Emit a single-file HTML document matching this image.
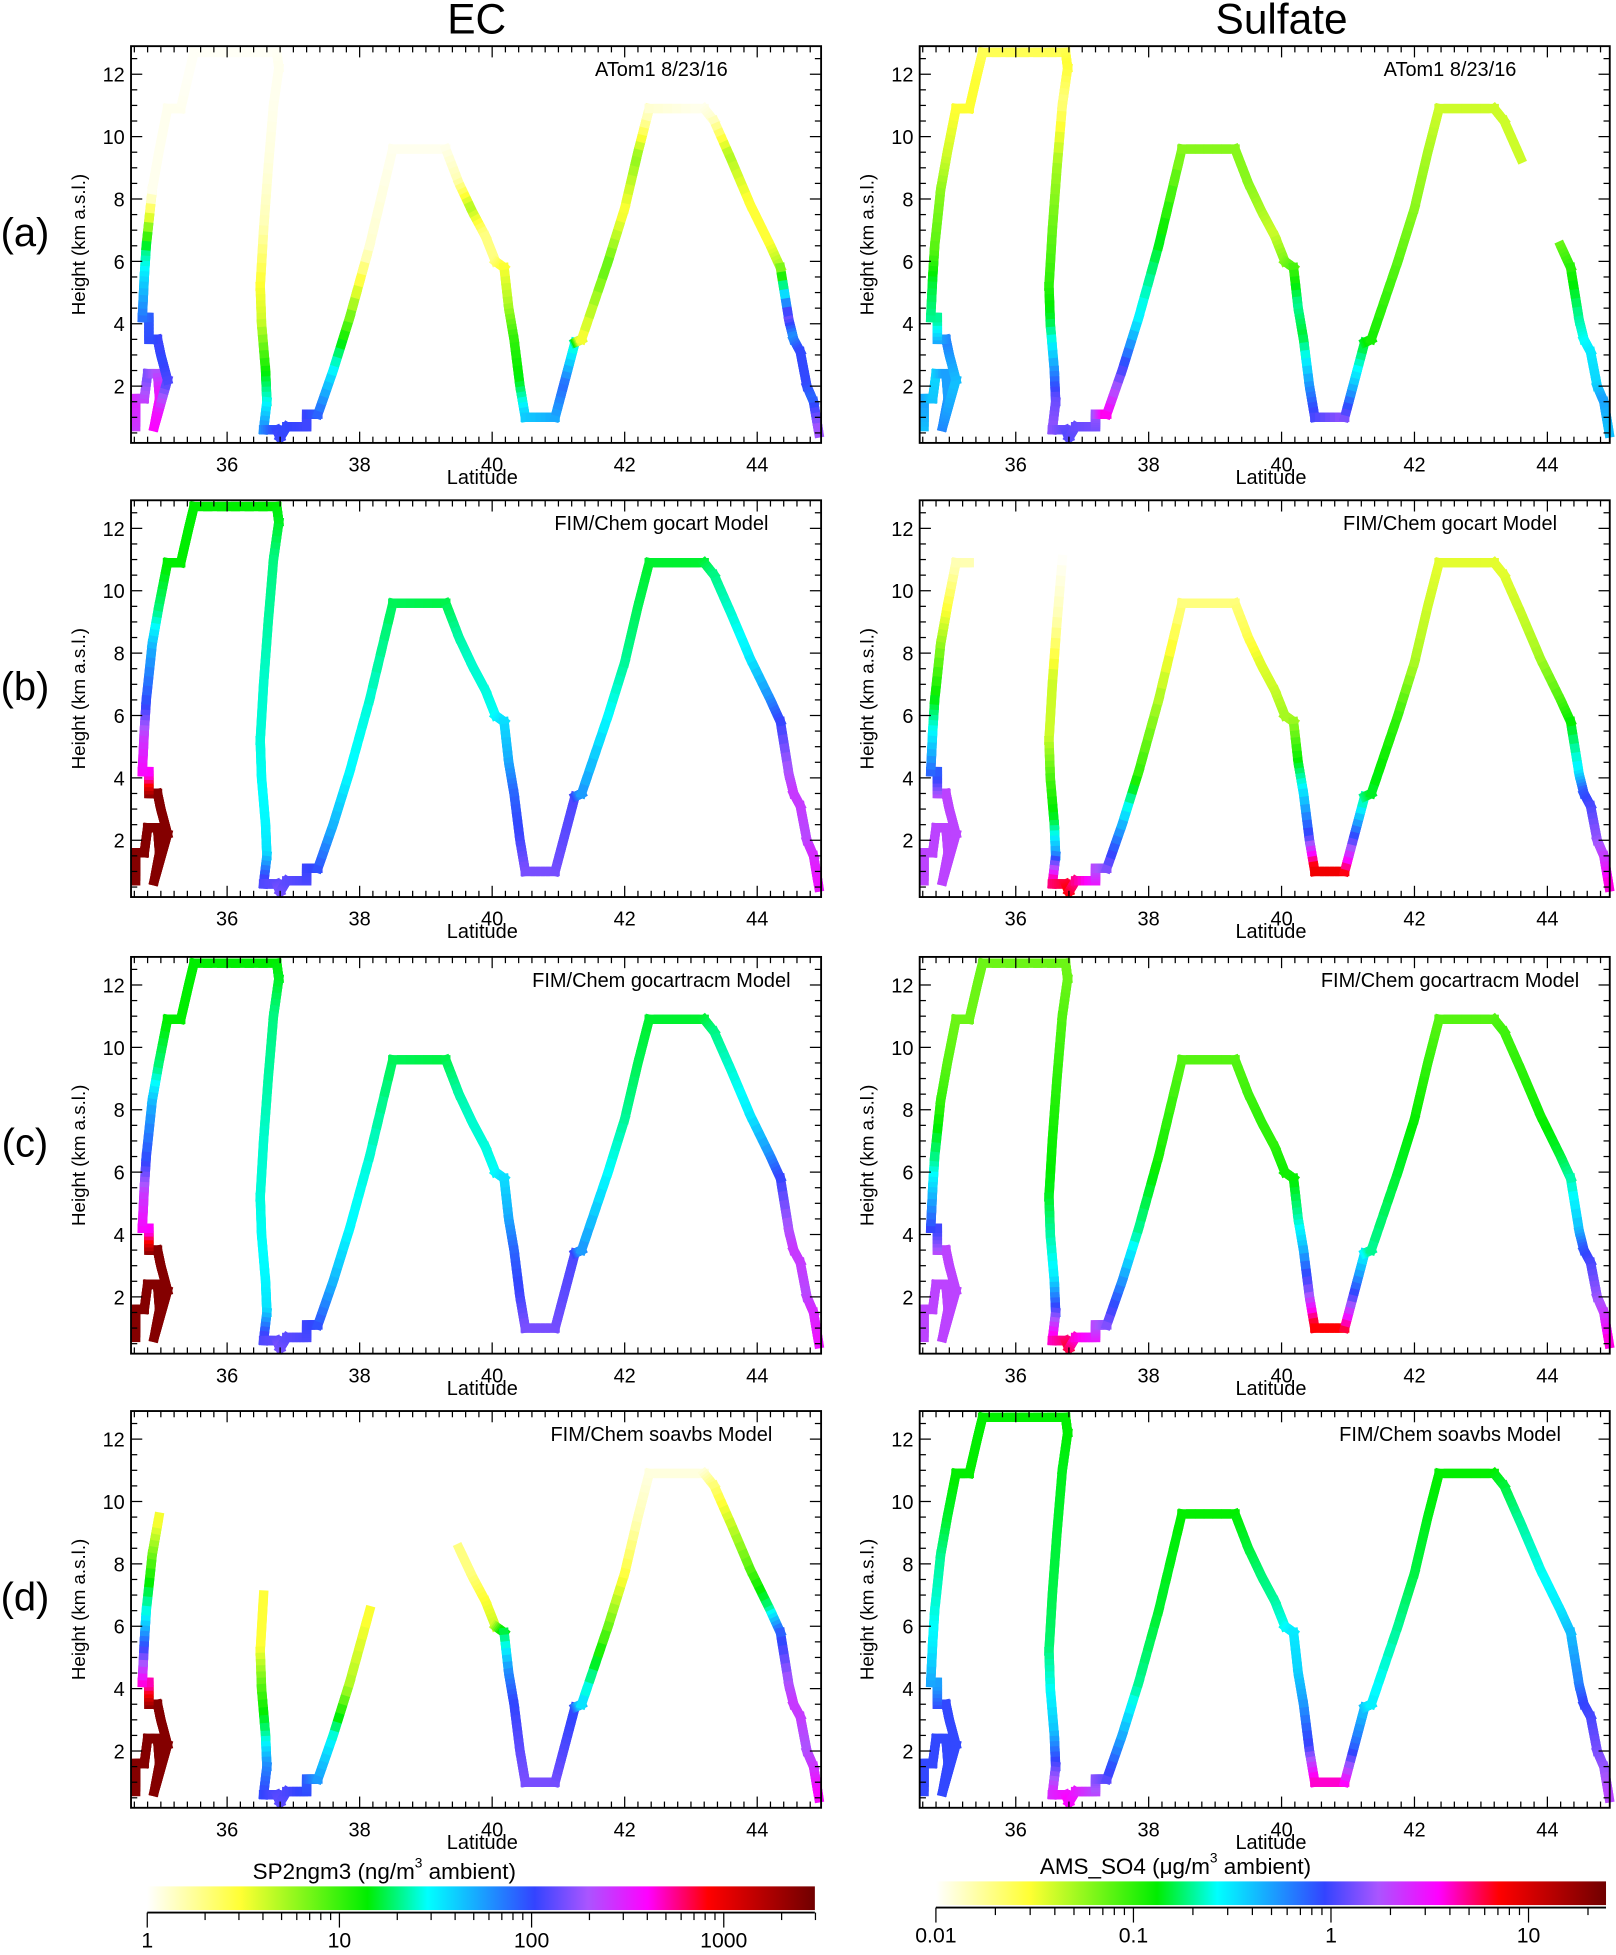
<!DOCTYPE html>
<html><head><meta charset="utf-8">
<style>
html,body{margin:0;padding:0;background:#fff;}
svg{display:block;}
text{font-family:"Liberation Sans",sans-serif;fill:#000;}
</style></head>
<body>
<svg id="fig" xmlns="http://www.w3.org/2000/svg" width="1616" height="1955" viewBox="0 0 1295 1567" preserveAspectRatio="none">
<text x="382" y="27" font-size="34" text-anchor="middle">EC</text>
<text x="1027" y="27" font-size="34" text-anchor="middle">Sulfate</text>
<g id="plots"></g>
<g id="bars"></g>
</svg>
<script>
// ---- flight track (shared by all panels) ----
const trackLat = [34.62,34.62,34.75,34.8,34.95,34.98,34.9,34.98,35.1,35.0,34.95,34.82,34.82,34.72,34.75,34.78,34.87,34.97,35.1,35.3,35.42,35.5,36.75,36.78,36.7,36.62,36.55,36.5,36.52,36.58,36.6,36.55,36.75,36.8,36.9,37.2,37.2,37.37,37.6,37.85,38.15,38.5,39.3,39.5,39.7,39.9,40.05,40.18,40.25,40.33,40.42,40.5,40.95,41.1,41.25,41.35,41.75,42.0,42.2,42.37,43.2,43.35,43.6,43.9,44.2,44.35,44.48,44.55,44.65,44.75,44.85,44.93];
const trackAlt = [0.7,1.6,1.6,2.4,2.4,1.6,0.7,1.3,2.2,3.0,3.5,3.5,4.2,4.2,5.5,6.5,8.3,9.5,10.9,10.9,12.0,12.7,12.7,12.2,11.0,9.0,7.0,5.2,4.0,2.5,1.5,0.6,0.6,0.35,0.7,0.7,1.1,1.1,2.5,4.2,6.5,9.6,9.6,8.5,7.6,6.8,6.0,5.8,4.5,3.5,2.0,1.0,1.0,2.2,3.4,3.5,6.0,7.7,9.5,10.9,10.9,10.5,9.3,7.8,6.5,5.8,4.1,3.5,3.1,2.0,1.5,0.5];
// ---- EC (ng/m3) ----
const ecObs = [250,300,250,150,200,350,400,350,120,100,110,100,90,80,40,20,1.1,1.1,1.1,1.1,1.05,1.05,1.05,1.1,1.1,1.2,1.5,3,4,12,25,60,100,110,100,110,110,90,35,8,1.3,1.1,1.1,1.5,5,2,2,3,5,10,15,40,50,80,25,3,8,3,6,1.3,1.1,1.3,5,3,3,5,150,60,100,100,80,200];
const ecGocart = [2500,2500,2500,2500,2500,2500,2500,2500,2500,2500,2500,2500,400,400,250,100,50,20,14,14,14,14,14,15,20,22,25,26,28,30,35,120,130,150,130,120,110,100,50,30,26,18,17,22,25,26,28,35,50,80,110,150,150,130,120,60,30,22,18,16,16,20,25,32,60,100,200,250,250,220,280,350];
const ecGocartracm = [2500,2500,2500,2500,2500,2500,2500,2500,2500,2500,2500,2500,400,400,250,100,50,20,14,14,14,14,14,15,20,22,25,26,28,30,35,120,130,150,130,120,110,100,50,30,26,18,17,22,25,26,28,35,50,80,110,150,150,130,120,60,30,22,18,16,16,20,25,32,60,100,200,250,250,220,280,350];
const ecSoavbs = [2500,2500,2500,2500,2500,2500,2500,2500,2500,2500,2500,2500,500,500,100,30,8,3,null,null,null,null,null,null,null,null,3,3,8,20,60,100,120,130,120,100,90,60,30,5,3,null,null,2,2,3,4,15,60,100,130,150,150,120,100,40,8,3,1.5,1.2,1.2,2,4,8,20,80,200,250,250,200,250,400];
// ---- Sulfate (ug/m3) ----
const so4Obs = [0.4,0.5,0.4,0.35,0.5,0.5,0.6,0.5,0.4,0.5,0.6,0.5,0.2,0.2,0.15,0.08,0.06,0.04,0.03,0.03,0.03,0.025,0.025,0.03,0.02,0.05,0.07,0.1,0.15,0.5,1.2,1.5,1.2,1.1,1.2,1.3,1.5,4,1.2,0.3,0.15,0.06,0.06,0.06,0.05,0.04,0.06,0.08,0.2,0.15,0.5,1,1.5,0.4,0.15,0.12,0.08,0.06,0.05,0.04,0.04,0.04,0.04,null,0.07,0.1,0.2,0.25,0.3,0.35,0.5,0.4];
const so4Gocart = [2,2,2,2,2,2,2,2,2,2,2,2,0.8,0.8,0.3,0.15,0.06,0.03,0.015,0.015,null,null,null,null,0.01,0.015,0.04,0.04,0.08,0.15,0.5,5,6,7,5,3,2,1.5,0.5,0.1,0.05,0.02,0.02,0.025,0.035,0.04,0.05,0.05,0.12,0.3,1,8,8,1,0.2,0.15,0.1,0.05,0.04,0.035,0.035,0.035,0.04,0.05,0.08,0.12,0.3,0.8,1,1.5,2,4];
const so4Gocartracm = [2,2,2,2,2,2,2,2,2,2,2,2,1,1,0.4,0.2,0.1,0.08,0.07,0.07,0.07,0.07,0.07,0.07,0.08,0.1,0.12,0.14,0.2,0.3,1,4,5,6,4,3,2,1.5,0.6,0.2,0.12,0.08,0.08,0.09,0.1,0.1,0.12,0.12,0.2,0.4,1.5,7,7,1,0.3,0.2,0.15,0.13,0.1,0.08,0.08,0.09,0.1,0.12,0.15,0.2,0.4,0.8,1,1.5,2,4];
const so4Soavbs = [0.9,0.9,0.9,0.9,0.9,0.9,0.9,0.9,0.9,0.9,0.9,0.9,0.5,0.5,0.3,0.25,0.2,0.15,0.13,0.13,0.13,0.13,0.13,0.13,0.14,0.15,0.16,0.18,0.25,0.4,1,2.5,3,3.5,3,2,1.5,1.2,0.5,0.2,0.15,0.13,0.13,0.15,0.18,0.2,0.25,0.3,0.35,0.5,1,4,4,0.8,0.4,0.3,0.2,0.16,0.14,0.13,0.13,0.15,0.2,0.25,0.3,0.4,0.6,0.9,1,1.3,1.5,2];
const panelTitles = ["ATom1 8/23/16","FIM/Chem gocart Model","FIM/Chem gocartracm Model","FIM/Chem soavbs Model"];
const rowLabels = ["(a)","(b)","(c)","(d)"];
const xTicks = [36,38,40,42,44];
const yTicks = [2,4,6,8,10,12];
const ecBarTicks = ["1","10","100","1000"];
const so4BarTicks = ["0.01","0.1","1","10"];

const NS="http://www.w3.org/2000/svg";
function mk(tag,attrs,parent){const e=document.createElementNS(NS,tag);for(const k in attrs)e.setAttribute(k,attrs[k]);parent.appendChild(e);return e;}
const stops=[[0,[255,255,255]],[0.14,[255,255,51]],[0.33,[0,238,0]],[0.42,[0,255,255]],[0.58,[51,68,255]],[0.66,[170,85,255]],[0.75,[255,0,255]],[0.84,[255,0,0]],[1,[112,0,0]]];
function cmap(t){t=Math.max(0,Math.min(1,t));for(let i=1;i<stops.length;i++){if(t<=stops[i][0]){const a=stops[i-1],b=stops[i];const f=(t-a[0])/(b[0]-a[0]);const c=a[1].map((v,j)=>Math.round(v+(b[1][j]-v)*f));return `rgb(${c[0]},${c[1]},${c[2]})`;}}return 'rgb(112,0,0)';}

const cols=[{x0:105,x1:658,lat36:182,dx:53.1,vmin:1,vmax:2990,series:[ecObs,ecGocart,ecGocartracm,ecSoavbs],name:'ec'},
            {x0:737,x1:1290,lat36:814,dx:53.25,vmin:0.01,vmax:24.6,series:[so4Obs,so4Gocart,so4Gocartracm,so4Soavbs],name:'sulfate'}];
const rowTops=[37,401,767,1131];
const plots=document.getElementById('plots');
cols.forEach((c,ci)=>{
  rowTops.forEach((top,ri)=>{
    const H=318, bot=top+H;
    const g=mk('g',{},plots);
    
    
    const xs=lat=>c.lat36+(lat-36)*c.dx;
    const ys=h=>top+(12.9-h)*25;
    const vals=c.series[ri];
    const lt=v=>Math.log10(v/c.vmin)/Math.log10(c.vmax/c.vmin);
    const tg=mk('g',{},g);
    
    
    for(let i=0;i<trackLat.length-1;i++){
      const v0=vals[i],v1=vals[i+1];
      if(v0==null||v1==null)continue;
      const N=6;
      for(let k=0;k<N;k++){
        const f0=k/N,f1=(k+1)/N,fm=(k+0.5)/N;
        const la0=trackLat[i]+(trackLat[i+1]-trackLat[i])*f0,la1=trackLat[i]+(trackLat[i+1]-trackLat[i])*f1;
        const h0=trackAlt[i]+(trackAlt[i+1]-trackAlt[i])*f0,h1=trackAlt[i]+(trackAlt[i+1]-trackAlt[i])*f1;
        const t=lt(v0)+(lt(v1)-lt(v0))*fm;
        const s=mk('line',{x1:xs(la0),y1:ys(h0),x2:xs(la1),y2:ys(h1),stroke:cmap(t),'stroke-width':7.5,'stroke-linecap':'square'},tg);
        
        
      }
    }
    const box=mk('rect',{x:c.x0,y:top,width:c.x1-c.x0,height:H,fill:'none',stroke:'#000','stroke-width':1.5},g);
    
    
    for(let l=34.6;l<=44.95;l+=0.2){
      const x=xs(l); if(x<c.x0||x>c.x1)continue;
      const major=Math.abs(l/2-Math.round(l/2))<0.01;
      const len=major?9:5;
      mk('line',{x1:x,y1:bot,x2:x,y2:bot-len,stroke:'#000','stroke-width':1},g);
      mk('line',{x1:x,y1:top,x2:x,y2:top+len,stroke:'#000','stroke-width':1},g);
    }
    for(let h=0.5;h<=12.9;h+=0.5){
      const y=ys(h); const major=Math.abs(h/2-Math.round(h/2))<0.01; const len=major?9:5;
      mk('line',{x1:c.x0,y1:y,x2:c.x0+len,y2:y,stroke:'#000','stroke-width':1},g);
      mk('line',{x1:c.x1,y1:y,x2:c.x1-len,y2:y,stroke:'#000','stroke-width':1},g);
    }
    xTicks.forEach(v=>{const t=mk('text',{x:xs(v),y:bot+23,'font-size':16,'text-anchor':'middle'},g);t.textContent=v;
      });
    yTicks.forEach(v=>{const t=mk('text',{x:c.x0-5,y:ys(v)+6,'font-size':16,'text-anchor':'end'},g);t.textContent=v;
      });
    const xl=mk('text',{x:(c.x0+c.x1)/2+5,y:bot+33,'font-size':16,'text-anchor':'middle'},g);xl.textContent='Latitude';
    
    const yl=mk('text',{x:0,y:0,'font-size':15,'text-anchor':'middle',transform:`translate(${c.x0-37},${top+H/2}) rotate(-90)`},g);yl.textContent='Height (km a.s.l.)';
    
    const pt=mk('text',{x:c.x0+425,y:top+24,'font-size':16,'text-anchor':'middle'},g);pt.textContent=panelTitles[ri];
    
    if(ci===0){const rl=mk('text',{x:20,y:top+160,'font-size':32,'text-anchor':'middle'},g);rl.textContent=rowLabels[ri];
      }
  });
});
const bars=document.getElementById('bars');
const barDefs=[{x0:118,x1:653,y:1512,h:19,dec:154,ticks:ecBarTicks,title:'SP2ngm3 (ng/m',tx:308,ty:1506,name:'ec-colorbar'},
               {x0:750,x1:1287,y:1508,h:19,dec:158.3,ticks:so4BarTicks,title:'AMS_SO4 (\u03bcg/m',tx:942,ty:1502,name:'sulfate-colorbar'}];
const defs=mk('defs',{},bars);
barDefs.forEach((b,bi)=>{
  const gr=mk('linearGradient',{id:'grad'+bi,x1:'0',x2:'1',y1:'0',y2:'0'},defs);
  stops.forEach(s=>mk('stop',{offset:s[0],'stop-color':`rgb(${s[1].join(',')})`},gr));
  const g=mk('g',{},bars);
  
  
  mk('rect',{x:b.x0,y:b.y,width:b.x1-b.x0,height:b.h,fill:`url(#grad${bi})`},g);
  const by=b.y+b.h+2;
  mk('line',{x1:b.x0,y1:by,x2:b.x1,y2:by,stroke:'#000','stroke-width':1.5},g);
  for(let d=0;d<4;d++){for(let m=1;m<=9;m++){const x=b.x0+(d+Math.log10(m))*b.dec;if(x>b.x1+0.5)continue;
    mk('line',{x1:x,y1:by,x2:x,y2:by+(m===1?12:6),stroke:'#000','stroke-width':1},g);}}
  b.ticks.forEach((t,i)=>{const tx=mk('text',{x:b.x0+i*b.dec,y:by+28,'font-size':17,'text-anchor':'middle'},g);tx.textContent=t;
    });
  const tt=mk('text',{x:b.tx,y:b.ty,'font-size':18,'text-anchor':'middle'},g);
  tt.textContent=b.title;
  const sup=mk('tspan',{dy:-9,'font-size':11},tt);sup.textContent='3';
  const rest=mk('tspan',{dy:9,'font-size':18},tt);rest.textContent=' ambient)';
  
});
</script>
</body></html>
